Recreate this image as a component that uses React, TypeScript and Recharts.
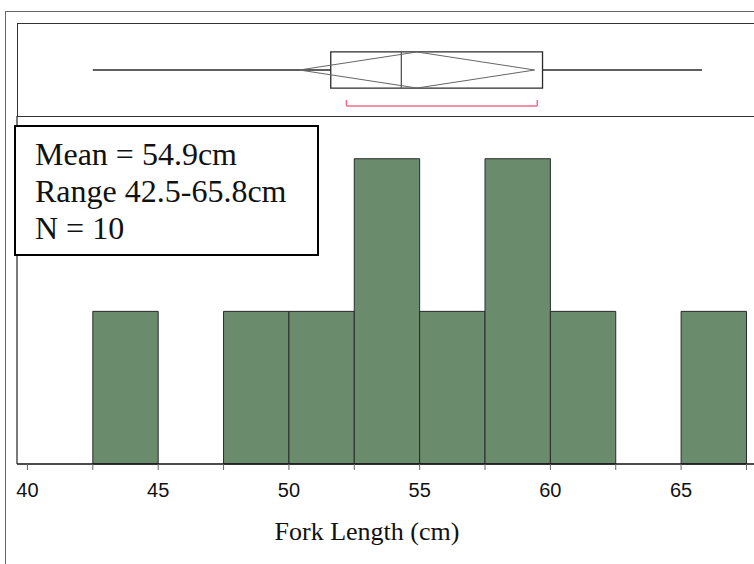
import React from 'react'
import {
  ComposedChart,
  XAxis,
  YAxis,
  ReferenceArea,
  ReferenceLine,
} from 'recharts'

// histogram bins (cm) and counts
const binStart = [42.5, 45, 47.5, 50, 52.5, 55, 57.5, 60, 62.5, 65]
const binEnd = [45, 47.5, 50, 52.5, 55, 57.5, 60, 62.5, 65, 67.5]
const binCount = [1, 0, 1, 1, 2, 1, 2, 1, 0, 1]

const xTicks = [40, 42.5, 45, 47.5, 50, 52.5, 55, 57.5, 60, 62.5, 65, 67.5]

// outlier box plot summary
const boxMin = 42.5
const boxQ1 = 51.6
const boxMedian = 54.3
const boxQ3 = 59.7
const boxMax = 65.8
const meanValue = 54.9
const meanCiLow = 50.4
const meanCiHigh = 59.4
const shortestHalfLow = 52.2
const shortestHalfHigh = 59.5

const statLines = ['Mean = 54.9cm', 'Range 42.5-65.8cm', 'N = 10']

const X_DOMAIN: [number, number] = [39.6, 68.4]
const BAR_FILL = '#6A8C6C'
const EDGE = '#2a2a2a'
const BRACKET = '#F06C88'

const bins = binStart.map((s, i) => ({ start: s, end: binEnd[i], count: binCount[i], mid: (s + binEnd[i]) / 2 }))

// vertical layout of the box plot panel (0..1)
const MID = 0.5
const BOX_TOP = 0.696
const BOX_BOT = 0.304
const BR_Y = 0.109
const BR_TICK = 0.174

function BoxPlot() {
  const seg = (x1: number, y1: number, x2: number, y2: number, stroke: string, w = 1, key?: string) => (
    <ReferenceLine
      key={key}
      segment={[{ x: x1, y: y1 }, { x: x2, y: y2 }]}
      stroke={stroke}
      strokeWidth={w}
      ifOverflow="visible"
    />
  )
  return (
    <ComposedChart width={800} height={92} data={bins} margin={{ top: 0, right: 30, bottom: 0, left: 17 }}>
      <XAxis type="number" dataKey="mid" domain={X_DOMAIN} allowDataOverflow hide />
      <YAxis type="number" domain={[0, 1]} allowDataOverflow hide />
      {seg(boxMin, MID, boxQ1, MID, EDGE, 1.3, 'wl')}
      {seg(boxQ3, MID, boxMax, MID, EDGE, 1.3, 'wr')}
      <ReferenceArea
        x1={boxQ1}
        x2={boxQ3}
        y1={BOX_BOT}
        y2={BOX_TOP}
        fill="none"
        fillOpacity={0}
        stroke={EDGE}
        strokeWidth={1.3}
        ifOverflow="visible"
      />
      {seg(boxMedian, BOX_BOT, boxMedian, BOX_TOP, '#555', 1.3, 'med')}
      {seg(meanCiLow, MID, meanValue, BOX_TOP, '#666', 1, 'd1')}
      {seg(meanValue, BOX_TOP, meanCiHigh, MID, '#666', 1, 'd2')}
      {seg(meanCiHigh, MID, meanValue, BOX_BOT, '#666', 1, 'd3')}
      {seg(meanValue, BOX_BOT, meanCiLow, MID, '#666', 1, 'd4')}
      {seg(shortestHalfLow, BR_Y, shortestHalfHigh, BR_Y, BRACKET, 1.5, 'b1')}
      {seg(shortestHalfLow, BR_Y, shortestHalfLow, BR_TICK, BRACKET, 1.5, 'b2')}
      {seg(shortestHalfHigh, BR_Y, shortestHalfHigh, BR_TICK, BRACKET, 1.5, 'b3')}
    </ComposedChart>
  )
}

function Histogram() {
  return (
    <ComposedChart width={800} height={564} data={bins} margin={{ top: 116, right: 30, bottom: 0, left: 0 }}>
      <XAxis
        type="number"
        dataKey="mid"
        domain={X_DOMAIN}
        allowDataOverflow
        ticks={xTicks}
        interval={0}
        height={100}
        tickSize={6}
        tickMargin={13}
        tickFormatter={(v: number) => (v % 5 === 0 ? String(v) : '')}
        tick={{ fill: '#111', fontSize: 20, fontFamily: '"Liberation Sans", Arial, sans-serif' }}
        axisLine={{ stroke: '#111', strokeWidth: 1.3 }}
        tickLine={{ stroke: '#666', strokeWidth: 1 }}
        label={{
          content: () => (
            <text
              x={367}
              y={540}
              textAnchor="middle"
              fill="#111"
              fontSize={26}
              fontFamily='"Liberation Serif", "Times New Roman", serif'
            >
              Fork Length (cm)
            </text>
          ),
        }}
      />
      <YAxis
        type="number"
        domain={[0, 2.28]}
        allowDataOverflow
        width={17}
        tick={false}
        tickLine={false}
        axisLine={{ stroke: '#333', strokeWidth: 1.3 }}
      />
      {bins
        .filter((b) => b.count > 0)
        .map((b) => (
          <ReferenceArea
            key={b.start}
            x1={b.start}
            x2={b.end}
            y1={0}
            y2={b.count}
            fill={BAR_FILL}
            fillOpacity={1}
            stroke={EDGE}
            strokeWidth={1}
            ifOverflow="visible"
          />
        ))}
    </ComposedChart>
  )
}

export default function App() {
  return (
    <div
      style={{
        position: 'absolute',
        left: 0,
        top: 0,
        width: 754,
        height: 564,
        overflow: 'hidden',
        background: '#fff',
      }}
    >
      <div
        style={{
          position: 'absolute',
          left: 5,
          top: 11,
          width: 900,
          height: 700,
          border: '1.5px solid #666',
        }}
      />
      <div style={{ position: 'absolute', left: 0, top: 0 }}>
        <Histogram />
      </div>
      <div
        style={{
          position: 'absolute',
          left: 17,
          top: 23,
          width: 900,
          height: 92,
          borderTop: '1.5px solid #333',
          borderLeft: '1.5px solid #333',
          borderBottom: '1.5px solid #333',
        }}
      />
      <div style={{ position: 'absolute', left: 0, top: 24 }}>
        <BoxPlot />
      </div>
      <div
        style={{
          position: 'absolute',
          left: 14,
          top: 125,
          width: 301,
          height: 127,
          border: '2px solid #000',
          background: '#fff',
          fontFamily: '"Liberation Serif", "Times New Roman", serif',
          fontSize: 32,
          lineHeight: '37px',
          color: '#111',
          paddingLeft: 19,
          paddingTop: 9,
          boxSizing: 'border-box',
          width: 305,
          height: 131,
        }}
      >
        {statLines.map((s) => (
          <div key={s} style={{ whiteSpace: 'nowrap' }}>
            {s}
          </div>
        ))}
      </div>
    </div>
  )
}
